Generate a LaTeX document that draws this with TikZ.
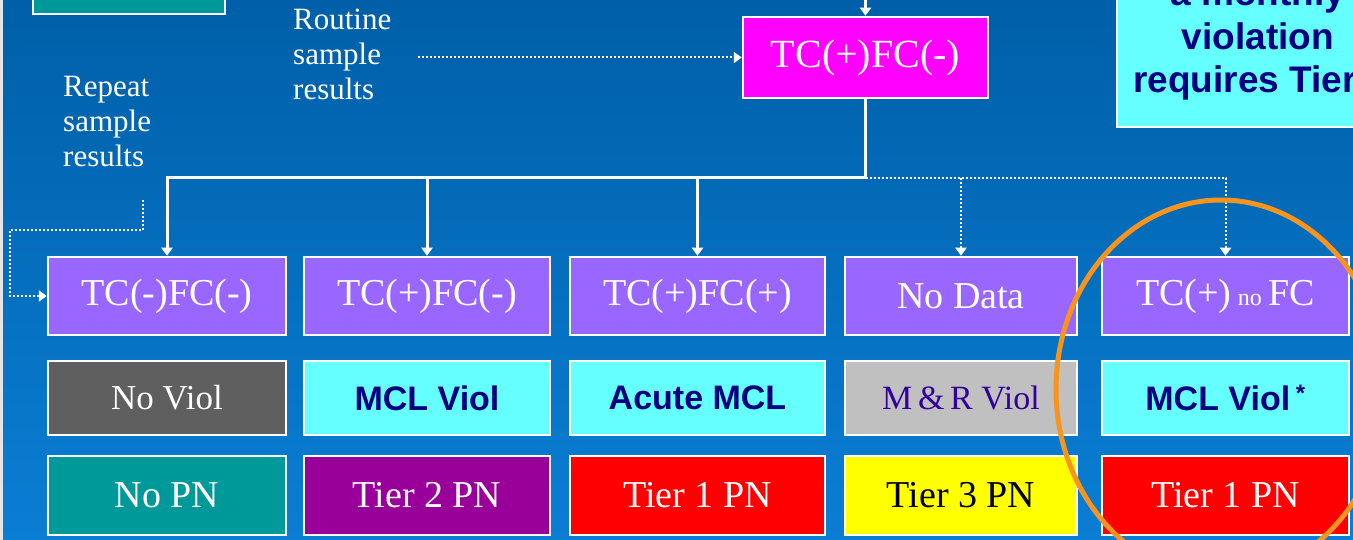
\documentclass[tikz,border=0pt]{standalone}
\usepackage{fontspec}
\setmainfont{Liberation Serif}
\newfontfamily\arialfont{Liberation Sans}
\usetikzlibrary{arrows.meta,calc}
\definecolor{bgtop}{HTML}{005FA8}
\definecolor{bgbot}{HTML}{0A7ED4}
\definecolor{rowpurple}{HTML}{9966FF}
\definecolor{magbox}{HTML}{FF00FF}
\definecolor{cyanbox}{HTML}{66FFFF}
\definecolor{darkgray}{HTML}{5F5F5F}
\definecolor{lightgray}{HTML}{C0C0C0}
\definecolor{tealbox}{HTML}{009999}
\definecolor{purplebox}{HTML}{990099}
\definecolor{redbox}{HTML}{FF0000}
\definecolor{yellowbox}{HTML}{FFFF00}
\definecolor{navytext}{HTML}{000080}
\definecolor{mrtext}{HTML}{330099}
\definecolor{ringorange}{HTML}{F7941D}
\newcommand\fsz[1]{\fontsize{#1}{#1}\selectfont}
\begin{document}
\begin{tikzpicture}[x=1pt,y=-1pt,
  bx/.style={draw=white,line width=2.5pt,inner sep=0pt,text=white,font=\fsz{38}},
  violbox/.style={bx,fill=cyanbox,text=navytext,font=\arialfont\bfseries\fsz{34}},
  wline/.style={draw=white,line width=3pt,-{Triangle[width=11pt,length=8pt]}},
  dline/.style={draw=white,line width=2pt,dash pattern=on 2pt off 2pt,-{Triangle[width=11pt,length=8pt]}},
  lbl/.style={text=white,inner sep=0pt,align=left,font=\fontsize{31}{35}\selectfont},
  notetext/.style={text=navytext,inner sep=0pt,font=\arialfont\bfseries\fsz{37}}]
\useasboundingbox (0,0) rectangle (1353,540);
\clip (0,0) rectangle (1353,540);
\shade[top color=bgtop,bottom color=bgbot] (0,0) rectangle (1353,540);
\fill[white!80!gray] (0,0) rectangle (3,540);

% partial boxes at the top
\node[bx,fill=tealbox,minimum width=192pt,minimum height=40pt] (tealtop) at (129,-6) {};
\node[bx,fill=cyanbox,minimum width=300pt,minimum height=150pt] (note) at (1267,52) {};
\node[notetext,anchor=base] (n1) at (1258,6) {a monthly};
\node[notetext,anchor=base] (n2) at (1258,50) {violation};
\node[notetext,anchor=base west] (n3) at (1133,93) {requires Tier};

% main test box
\node[bx,fill=magbox,minimum width=245pt,minimum height=81pt,font=\fsz{40}] (tcm) at (865.5,57.5) {TC(+)FC(-)};

% labels
\node[lbl,anchor=base west] (routine) at (293,100) {Routine\\sample\\results};
\node[lbl,anchor=base west] (repeat) at (63,167) {Repeat\\sample\\results};

% row 1
\node[bx,fill=rowpurple,minimum width=238pt,minimum height=78pt] (b1) at (167,296) {TC(-)FC(-)};
\node[bx,fill=rowpurple,minimum width=246pt,minimum height=78pt] (b2) at (427,296) {TC(+)FC(-)};
\node[bx,fill=rowpurple,minimum width=255pt,minimum height=78pt] (b3) at (697.5,296) {TC(+)FC(+)};
\node[bx,fill=rowpurple,minimum width=232pt,minimum height=78pt] (b4) at (961,296) {No Data};
\node[bx,fill=rowpurple,minimum width=247pt,minimum height=78pt] (b5) at (1225.5,296) {TC(+)\,{\fsz{24}no}\,FC};

% row 2
\node[bx,fill=darkgray,minimum width=238pt,minimum height=74pt,font=\fsz{35}] (v1) at (167,398) {No Viol};
\node[violbox,minimum width=246pt,minimum height=74pt] (v2) at (427,398) {MCL Viol};
\node[violbox,minimum width=255pt,minimum height=74pt] (v3) at (697.5,398) {Acute MCL};
\node[bx,fill=lightgray,text=mrtext,minimum width=232pt,minimum height=74pt,font=\fsz{34}] (v4) at (961,398) {M\,\&\,R Viol};
\node[violbox,minimum width=247pt,minimum height=74pt] (v5) at (1225.5,398) {MCL Viol\,\textsuperscript{*}};

% row 3
\node[bx,fill=tealbox,minimum width=238pt,minimum height=79pt] (p1) at (167,495.5) {No PN};
\node[bx,fill=purplebox,minimum width=246pt,minimum height=79pt] (p2) at (427,495.5) {Tier 2 PN};
\node[bx,fill=redbox,minimum width=255pt,minimum height=79pt] (p3) at (697.5,495.5) {Tier 1 PN};
\node[bx,fill=yellowbox,text=black,minimum width=232pt,minimum height=79pt] (p4) at (961,495.5) {Tier 3 PN};
\node[bx,fill=redbox,minimum width=247pt,minimum height=79pt] (p5) at (1225.5,495.5) {Tier 1 PN};

% connectors
\coordinate (topin) at (865.5,-2);
\coordinate (rt) at (418,57.5);
\coordinate (j) at (865.5,178);
\coordinate (rp) at (143,200);
\coordinate (rc) at (10,230);
\draw[wline] (topin) -- (tcm.north);
\draw[dline] (rt) -- (tcm.west);
\draw[draw=white,line width=3pt] (tcm.south) -- (j);
\draw[wline] (j) -| (b1.north);
\draw[wline] (j) -| (b2.north);
\draw[wline] (j) -| (b3.north);
\draw[dline] (j) -| (b4.north);
\draw[dline] (j) -| (b5.north);
\draw[dline] (rp) |- (rc) |- (b1.west);

% highlight ring
\draw[ringorange,line width=5pt] (1221,389) ellipse [x radius=165, y radius=189];
\end{tikzpicture}
\end{document}
